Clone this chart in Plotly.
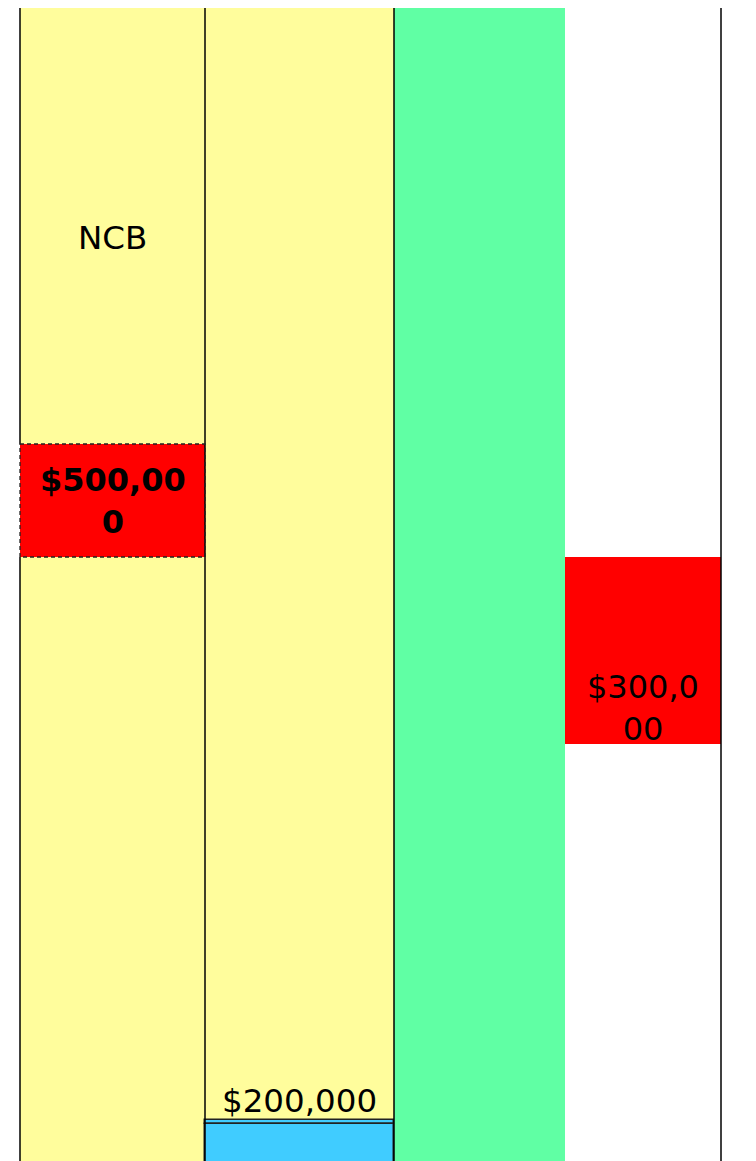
import plotly.graph_objects as go

# Column boundaries (horizontal units) and band extents (vertical units)
col_left = [20, 205, 394, 565]
col_right = [205, 394, 565, 721]

# Background bands: (column index, top, bottom, colour)
band_col = [0, 1, 2]
band_top = [7, 7, 7]
band_bottom = [1175, 1120, 1175]
band_color = ["#FFFD9C", "#FFFD9C", "#60FFA4"]

# Blue bottom segments in column 2
blue_top = [1120, 1124]
blue_bottom = [1124, 1175]

# Red value blocks
red_col = [0, 3]
red_top = [444, 557]
red_bottom = [557, 744]
red_labels = ["<b>$500,00<br>0</b>", "$300,0<br>00"]
red_label_y = [501, 708]

# Other labels
other_labels = ["NCB", "$200,000"]
other_col = [0, 1]
other_label_y = [238, 1101]

# Vertical divider lines: x position, segments
divider_x = [20, 20, 205, 394, 721]
divider_top = [7, 557, 7, 7, 7]
divider_bottom = [444, 1175, 1175, 1175, 1175]

fig = go.Figure()

def center(i):
    return (col_left[i] + col_right[i]) / 2

def width(i):
    return col_right[i] - col_left[i]

for c, t, b, colr in zip(band_col, band_top, band_bottom, band_color):
    fig.add_trace(go.Bar(x=[center(c)], width=[width(c)], base=[t], y=[b - t],
                         marker=dict(color=colr, line=dict(width=0)),
                         hoverinfo="skip", showlegend=False))

for t, b in zip(blue_top, blue_bottom):
    fig.add_trace(go.Bar(x=[center(1)], width=[width(1)], base=[t], y=[b - t],
                         marker=dict(color="#40CCFF", line=dict(width=1.5, color="#222")),
                         hoverinfo="skip", showlegend=False))

for c, t, b in zip(red_col, red_top, red_bottom):
    fig.add_trace(go.Bar(x=[center(c)], width=[width(c)], base=[t], y=[b - t],
                         marker=dict(color="#FF0000", line=dict(width=0)),
                         hoverinfo="skip", showlegend=False))

# solid dividers
xs, ys = [], []
for x, t, b in zip(divider_x, divider_top, divider_bottom):
    xs += [x, x, None]
    ys += [t, b, None]
fig.add_trace(go.Scatter(x=xs, y=ys, mode="lines",
                         line=dict(color="black", width=1.5),
                         hoverinfo="skip", showlegend=False))

# dashed outline around first red block
c = red_col[0]
l, r = col_left[c], col_right[c]
t, b = red_top[0], red_bottom[0]
fig.add_trace(go.Scatter(x=[l, r, r, l, l], y=[t, t, b, b, t], mode="lines",
                         line=dict(color="#222", width=1.3, dash="4px,3px"),
                         hoverinfo="skip", showlegend=False))

for txt, c, y in zip(red_labels, red_col, red_label_y):
    fig.add_annotation(x=center(c), y=y, text=txt, showarrow=False,
                       font=dict(family="DejaVu Sans", size=32, color="black"))
for txt, c, y in zip(other_labels, other_col, other_label_y):
    fig.add_annotation(x=center(c), y=y, text=txt, showarrow=False,
                       font=dict(family="DejaVu Sans", size=32.5, color="black"))

fig.update_layout(
    width=748, height=1153,
    margin=dict(l=0, r=0, t=0, b=0),
    barmode="overlay", bargap=0,
    paper_bgcolor="white", plot_bgcolor="white",
    xaxis=dict(range=[8, 756], visible=False, fixedrange=True),
    yaxis=dict(range=[1161, 8], visible=False, fixedrange=True),
)

fig.write_html("out.html")
